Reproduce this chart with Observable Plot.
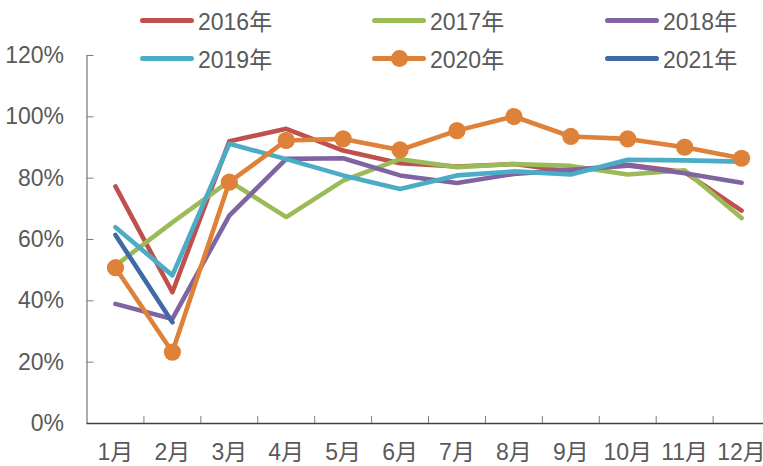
<!DOCTYPE html>
<html><head><meta charset="utf-8">
<script src="https://cdn.jsdelivr.net/npm/d3@7"></script>
<script src="https://cdn.jsdelivr.net/npm/@observablehq/plot@0.6"></script>
<style>
body{margin:0;background:#fff;}
#wrap{position:relative;width:763px;height:466px;overflow:hidden;}
.lg{position:absolute;display:flex;align-items:center;height:30px;font-family:'Liberation Sans Narrow','Arial Narrow','Liberation Sans','Noto Sans CJK SC',sans-serif;font-size:23px;color:#595959;white-space:nowrap;}
.sw{position:relative;display:inline-block;width:54px;height:5px;border-radius:3px;margin-right:4px;}
.dot{position:absolute;left:19px;top:-6px;width:17px;height:17px;border-radius:50%;}
</style></head><body><div id="wrap"></div>
<script>
const months = ["1月","2月","3月","4月","5月","6月","7月","8月","9月","10月","11月","12月"];
const yTicks = [0, 0.2, 0.4, 0.6, 0.8, 1.0, 1.2];
const names = ["2016年","2017年","2018年","2019年","2020年","2021年"];
const colors = ["#C0504D","#9BBB59","#8064A2","#4BACC6","#DE8139","#4069A8"];
const v2016 = [0.773,0.428,0.920,0.961,0.890,0.849,0.838,0.846,0.822,0.844,0.820,0.694];
const v2017 = [0.515,0.656,0.790,0.673,0.792,0.862,0.836,0.846,0.840,0.812,0.826,0.670];
const v2018 = [0.390,0.341,0.678,0.863,0.865,0.809,0.784,0.814,0.827,0.841,0.816,0.785];
const v2019 = [0.640,0.483,0.912,0.862,0.809,0.765,0.809,0.822,0.812,0.860,0.858,0.854];
const v2020 = [0.508,0.233,0.787,0.923,0.928,0.892,0.955,1.001,0.936,0.928,0.901,0.865];
const v2021 = [0.615,0.330];
const allValues = [v2016,v2017,v2018,v2019,v2020,v2021];

const rows = allValues.map(vals => vals.map((v,i) => ({m: i+1, v})));
const boundaries = months.slice(1).map((_, i) => i + 1.5);
const FONT = "'Liberation Sans Narrow','Arial Narrow','Liberation Sans','Noto Sans CJK SC',sans-serif";

const lineMarks = rows.map((r, k) => Plot.line(r, {x:"m", y:"v", stroke: colors[k], strokeWidth: 4.6, strokeLinejoin:"round", strokeLinecap:"round"}));

const chart = Plot.plot({
  width: 763, height: 466,
  marginTop: 55, marginBottom: 43, marginLeft: 86.5, marginRight: 0,
  style: {fontFamily: FONT, fontSize: "23px", color: "#595959", background: "#fff"},
  x: {type: "linear", domain: [0.5, 12.385], axis: null, label: null},
  y: {domain: [0, 1.2], axis: null, label: null},
  marks: [
    Plot.axisY({ticks: yTicks, label: null, tickSize: 0, tickPadding: 23, tickFormat: d => Math.round(d*100) + "%", fontSize: 23, fill: "#595959"}),
    Plot.axisY({ticks: yTicks, label: null, tickSize: 7, dx: 7, tickFormat: () => "", stroke: "#7f7f7f"}),
    Plot.axisX({ticks: months.map((_, i) => i + 1), label: null, tickSize: 0, tickPadding: 20, tickFormat: d => months[d-1], fontSize: 23, fill: "#595959"}),
    Plot.axisX({ticks: boundaries, label: null, tickSize: 7, dy: -7, tickFormat: () => "", stroke: "#7f7f7f"}),
    Plot.ruleX([0.5], {stroke: "#7f7f7f", strokeWidth: 1.3}),
    Plot.ruleY([0], {stroke: "#404040", strokeWidth: 1.3}),
    ...lineMarks,
    Plot.dot(rows[4], {x:"m", y:"v", r: 8.6, fill: colors[4], stroke: "none"}),
  ]
});
const wrap = document.getElementById("wrap");
wrap.appendChild(chart);

const colX = [140, 372, 605];
const rowY = [20, 58];
names.forEach((n, k) => {
  const d = document.createElement("div");
  d.className = "lg";
  d.style.left = colX[k % 3] + "px";
  d.style.top = (rowY[Math.floor(k / 3)] - 15) + "px";
  const sw = document.createElement("span");
  sw.className = "sw";
  sw.style.background = colors[k];
  if (k === 4) {
    const dot = document.createElement("span");
    dot.className = "dot";
    dot.style.background = colors[k];
    sw.appendChild(dot);
  }
  const t = document.createElement("span");
  t.textContent = n;
  d.appendChild(sw); d.appendChild(t);
  wrap.appendChild(d);
});
</script></body></html>
